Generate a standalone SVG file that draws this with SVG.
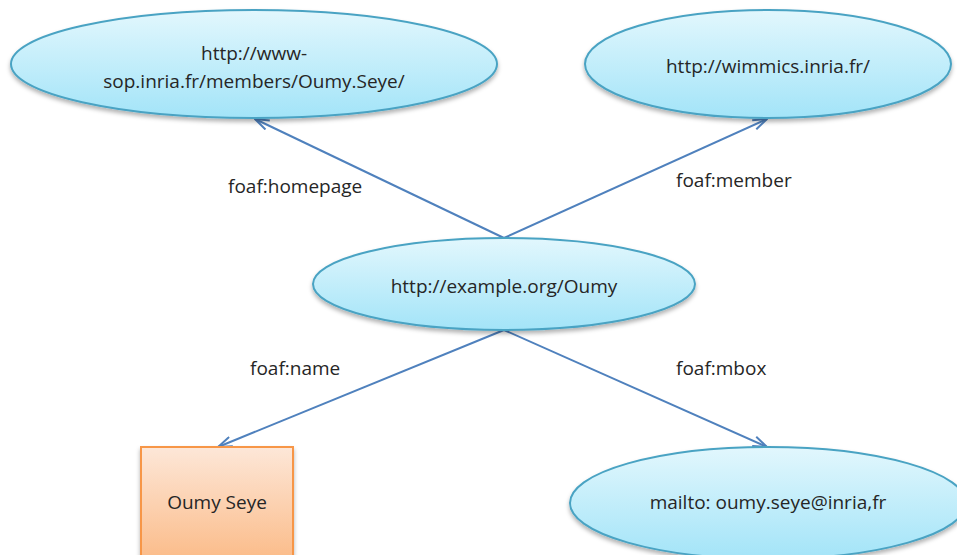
<svg xmlns="http://www.w3.org/2000/svg" width="957" height="555" viewBox="0 0 957 555">
<style>
.node{fill:url(#blue);stroke:#4aa3c3;stroke-width:2}
.box{fill:url(#orange);stroke:#f79646;stroke-width:2}
.t{font-family:"Open Sans","Liberation Sans",Arial,sans-serif;font-size:19px;fill:#262626;text-anchor:middle;dominant-baseline:central}
.lbl{font-family:"Open Sans","Liberation Sans",Arial,sans-serif;font-size:19px;fill:#262626;dominant-baseline:central}
.edge{stroke:#4f81bd;stroke-width:2;fill:none;marker-end:url(#arr)}
</style>
<defs>
<linearGradient id="blue" x1="0" y1="0" x2="0" y2="1">
<stop offset="0" stop-color="#e2f7fd"/>
<stop offset="1" stop-color="#a3e4f8"/>
</linearGradient>
<linearGradient id="orange" x1="0" y1="0" x2="0" y2="1">
<stop offset="0" stop-color="#fde7d8"/>
<stop offset="1" stop-color="#fbbb88"/>
</linearGradient>
<filter id="sh" x="-10%" y="-10%" width="120%" height="130%">
<feDropShadow dx="0" dy="3" stdDeviation="2" flood-color="#000" flood-opacity="0.3"/>
</filter>
<marker id="arr" markerWidth="16" markerHeight="12" refX="15" refY="6" orient="auto" markerUnits="userSpaceOnUse">
<path d="M1,1 L15,6 L1,11" fill="none" stroke="#4f81bd" stroke-width="2"/>
</marker>
</defs>
<rect width="957" height="555" fill="#fff"/>
<g id="connectors">
<line class="edge" x1="504" y1="238" x2="255" y2="119"/>
<line class="edge" x1="504" y1="238" x2="767" y2="119"/>
<line class="edge" x1="504" y1="330" x2="218" y2="447"/>
<line class="edge" x1="504" y1="330" x2="767" y2="447"/>
<text class="lbl" x="228" y="186">foaf:homepage</text>
<text class="lbl" x="676" y="180">foaf:member</text>
<text class="lbl" x="250" y="368">foaf:name</text>
<text class="lbl" x="676" y="368">foaf:mbox</text>
</g>
<g id="homepage">
<ellipse class="node" filter="url(#sh)" cx="254" cy="64" rx="243" ry="54"/>
<text class="t" x="254" y="53">http://www-</text>
<text class="t" x="254" y="81">sop.inria.fr/members/Oumy.Seye/</text>
</g>
<g id="wimmics">
<ellipse class="node" filter="url(#sh)" cx="768" cy="64" rx="183" ry="54"/>
<text class="t" x="768" y="66">http://wimmics.inria.fr/</text>
</g>
<g id="oumy">
<ellipse class="node" filter="url(#sh)" cx="504" cy="284" rx="191" ry="46"/>
<text class="t" x="504" y="286">http://example.org/Oumy</text>
</g>
<g id="name">
<rect class="box" filter="url(#sh)" x="141" y="447" width="152" height="115"/>
<text class="t" x="217" y="502">Oumy Seye</text>
</g>
<g id="mbox">
<ellipse class="node" filter="url(#sh)" cx="768" cy="503" rx="198" ry="56"/>
<text class="t" x="768" y="502">mailto: oumy.seye@inria,fr</text>
</g>
</svg>
